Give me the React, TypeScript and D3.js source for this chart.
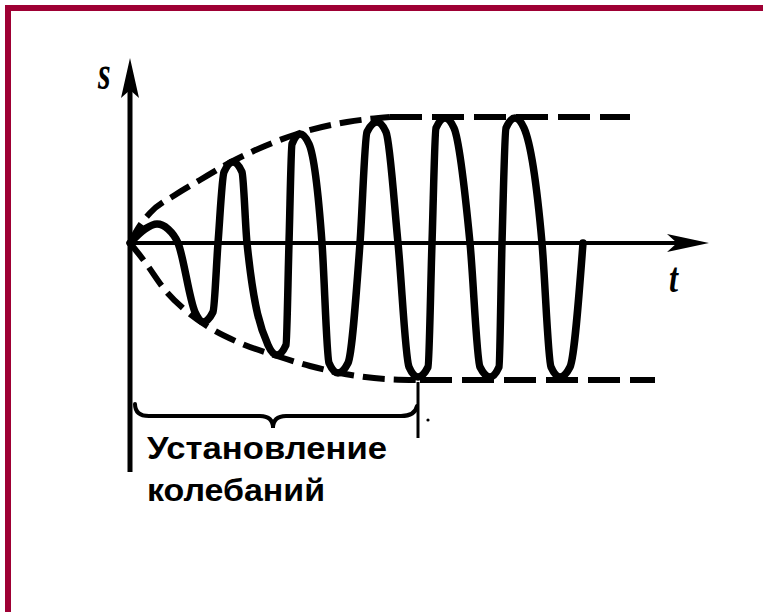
import React from "react";
import * as d3 from "d3";

// Oscillation s(t): extrema, shoulders of the rounded tops and zero crossings
const waveT = [
  0, 15, 27, 38, 48,
  65, 73, 83, 88,
  94, 103, 112, 117,
  138, 147, 156, 159,
  162, 170, 179, 192,
  199, 208, 218, 230,
  237, 247, 256, 268,
  279, 288, 298, 302,
  306, 315, 324, 340,
  350, 360, 369, 372,
  376, 385, 394, 412,
  421, 430, 440, 453,
];
const waveS = [
  0, 14, 19, 14, 0,
  -69, -79, -69, 0,
  71, 81, 71, 0,
  -102, -112, -102, 0,
  99, 109, 99, 0,
  -120, -130, -120, 0,
  111, 121, 111, 0,
  -124, -134, -124, 0,
  115, 125, 115, 0,
  -124, -134, -124, 0,
  115, 125, 115, 0,
  -124, -134, -124, 0,
];

// Upper envelope (dashed)
const upperCurveT = [0, 7, 20, 45, 70, 103, 135, 170, 217, 260];
const upperCurveS = [0, 13, 30, 48, 63, 82, 97, 110, 121, 126];
const upperFlatT = [260, 500];
const upperFlatS = [126, 126];

// Lower envelope (dashed)
const lowerCurveT = [0, 15, 35, 55, 80, 110, 147, 180, 215, 255, 290];
const lowerCurveS = [0, -19, -47, -67, -85, -100, -113, -123, -131, -136, -137];
const lowerFlatT = [290, 525];
const lowerFlatS = [-137, -137];

// Axis extents
const tAxis = [0, 577];
const sAxis = [-229, 183];

// Establishing interval (brace)
const braceT = [5, 143, 285];
const markerT = 288;

const labelLines = ["Установление", "колебаний"];
const axisLabels = { s: "s", t: "t" };

export default function App() {
  const W = 763;
  const H = 612;
  const x = d3.scaleLinear().domain([0, 575]).range([130, 705]);
  const y = d3.scaleLinear().domain([-150, 190]).range([393, 53]);

  const line = d3
    .line<[number, number]>()
    .x((d) => x(d[0]))
    .y((d) => y(d[1]))
    .curve(d3.curveMonotoneX);
  const straight = d3
    .line<[number, number]>()
    .x((d) => x(d[0]))
    .y((d) => y(d[1]));

  const zip = (a: number[], b: number[]) => a.map((v, i) => [v, b[i]] as [number, number]);

  const wave = line(zip(waveT, waveS)) || "";
  const upC = line(zip(upperCurveT, upperCurveS)) || "";
  const upF = straight(zip(upperFlatT, upperFlatS)) || "";
  const loC = line(zip(lowerCurveT, lowerCurveS)) || "";
  const loF = straight(zip(lowerFlatT, lowerFlatS)) || "";

  const x0 = x(0);
  const y0 = y(0);
  const yTop = y(sAxis[1]);
  const yBot = y(sAxis[0]);
  const xEnd = x(tAxis[1]);

  // brace
  const bx0 = x(braceT[0]);
  const bxm = x(braceT[1]);
  const bx1 = x(braceT[2]);
  const by = y(-173);
  const brace = `M${bx0},${by - 12} Q${bx0},${by} ${bx0 + 14},${by} L${bxm - 13},${by} Q${bxm},${by} ${bxm},${by + 12} Q${bxm},${by} ${bxm + 13},${by} L${bx1 - 14},${by} Q${bx1},${by} ${bx1 + 2},${by - 10}`;

  const mx = x(markerT);

  return (
    <svg
      width={W}
      height={H}
      style={{ position: "absolute", left: 0, top: 0, background: "#fff" }}
    >
      <rect x={0} y={0} width={W} height={H} fill="#fff" />
      <rect x={8} y={8} width={900} height={900} fill="none" stroke="#9e0034" strokeWidth={6} />

      {/* axes */}
      <line x1={x0} y1={yTop + 20} x2={x0} y2={yBot} stroke="#000" strokeWidth={5} />
      <path
        d={`M${x0},${yTop - 2} L${x0 - 9},${yTop + 38} L${x0},${yTop + 30} L${x0 + 9},${yTop + 38} Z`}
        fill="#000"
      />
      <line x1={x0} y1={y0} x2={xEnd - 20} y2={y0} stroke="#000" strokeWidth={4} />
      <path
        d={`M${xEnd + 2},${y0} L${xEnd - 40},${y0 - 9} L${xEnd - 30},${y0} L${xEnd - 40},${y0 + 9} Z`}
        fill="#000"
      />

      {/* envelopes */}
      <g fill="none" stroke="#000" strokeWidth={6} strokeLinecap="butt">
        <path d={upC} strokeDasharray="22 9" />
        <path d={upF} strokeDasharray="32 10" />
        <path d={loC} strokeDasharray="22 9" />
        <path d={loF} strokeDasharray="32 10" />
      </g>

      {/* oscillation */}
      <path d={wave} fill="none" stroke="#000" strokeWidth={7.5} strokeLinejoin="round" strokeLinecap="round" />

      {/* brace and marker */}
      <path d={brace} fill="none" stroke="#000" strokeWidth={4} strokeLinecap="round" />
      <line x1={mx} y1={y(-139)} x2={mx} y2={y(-195)} stroke="#000" strokeWidth={3} />
      <circle cx={mx + 10} cy={y(-177)} r={1.6} fill="#000" />

      {/* axis labels */}
      <text
        x={0}
        y={0}
        transform={`translate(${x0 - 32},${yTop + 29}) scale(0.9,1.35)`}
        fontFamily="'Liberation Serif', 'DejaVu Serif', serif"
        fontStyle="italic"
        fontWeight="bold"
        fontSize={36}
        fill="#000"
      >
        {axisLabels.s}
      </text>
      <text
        x={0}
        y={0}
        transform={`translate(${xEnd - 38},${y0 + 49}) scale(0.9,1.15)`}
        fontFamily="'Liberation Serif', 'DejaVu Serif', serif"
        fontStyle="italic"
        fontWeight="bold"
        fontSize={36}
        fill="#000"
      >
        {axisLabels.t}
      </text>

      {/* caption */}
      <text
        x={147}
        y={459}
        fontFamily="'Liberation Sans', Arial, sans-serif"
        fontWeight="bold"
        fontSize={32}
        textLength={240}
        lengthAdjust="spacingAndGlyphs"
        fill="#000"
      >
        {labelLines[0]}
      </text>
      <text
        x={147}
        y={501}
        fontFamily="'Liberation Sans', Arial, sans-serif"
        fontWeight="bold"
        fontSize={32}
        textLength={178}
        lengthAdjust="spacingAndGlyphs"
        fill="#000"
      >
        {labelLines[1]}
      </text>
    </svg>
  );
}
